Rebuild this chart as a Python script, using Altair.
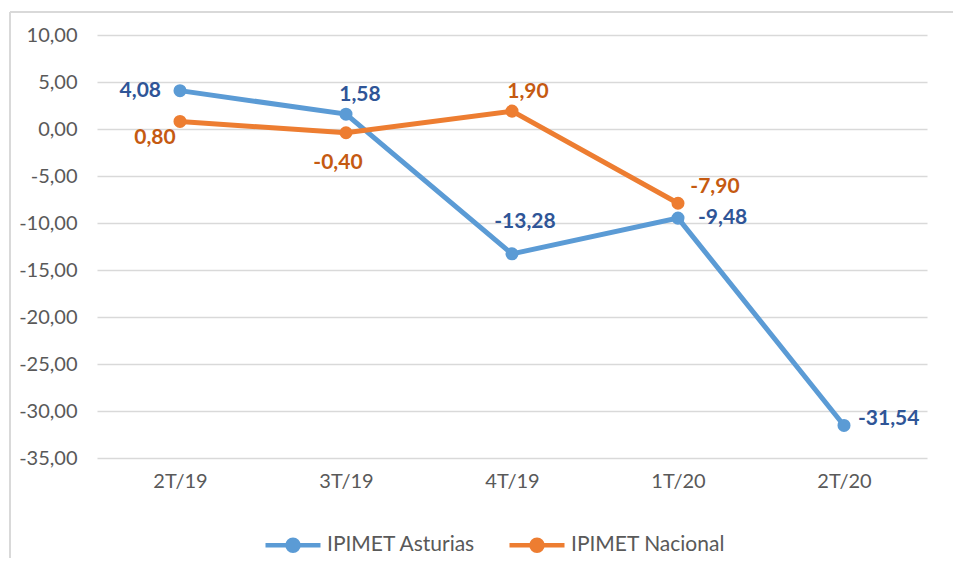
import altair as alt
import pandas as pd

periods = ["2T/19", "3T/19", "4T/19", "1T/20", "2T/20"]
asturias = [4.08, 1.58, -13.28, -9.48, -31.54]
nacional = [0.80, -0.40, 1.90, -7.90, None]
series_names = ["IPIMET Asturias", "IPIMET Nacional"]
y_ticks = [10, 5, 0, -5, -10, -15, -20, -25, -30, -35]

line_colors = ["#5B9BD5", "#ED7D31"]
label_colors = {"IPIMET Asturias": "#2F5597", "IPIMET Nacional": "#C55A11"}

rows = []
for name, vals in zip(series_names, [asturias, nacional]):
    for p, v in zip(periods, vals):
        if v is None:
            continue
        rows.append({"period": p, "series": name, "value": v,
                     "label": f"{v:.2f}".replace(".", ",")})
df = pd.DataFrame(rows)

# label placement (dx, dy, align) per point
offsets = {
    ("IPIMET Asturias", "2T/19"): (-19, 0, "right"),
    ("IPIMET Asturias", "3T/19"): (14, -19, "center"),
    ("IPIMET Asturias", "4T/19"): (13, -32, "center"),
    ("IPIMET Asturias", "1T/20"): (20, 0, "left"),
    ("IPIMET Asturias", "2T/20"): (14, -6, "left"),
    ("IPIMET Nacional", "2T/19"): (-25, 17, "center"),
    ("IPIMET Nacional", "3T/19"): (-8, 30, "center"),
    ("IPIMET Nacional", "4T/19"): (16, -19, "center"),
    ("IPIMET Nacional", "1T/20"): (37, -16, "center"),
}

FONT = "Lato"
W, H = 830, 423

x_enc = alt.X("period:N", sort=periods,
              scale=alt.Scale(type="point", padding=0.5),
              axis=alt.Axis(title=None, domain=False, ticks=False, grid=False,
                            labelFontSize=20, labelColor="#595959", labelFont=FONT,
                            labelPadding=13, labelAngle=0))
y_enc = alt.Y("value:Q", scale=alt.Scale(domain=[-35, 10], nice=False, zero=False),
              axis=alt.Axis(title=None, domain=False, ticks=False, values=y_ticks,
                            gridColor="#D9D9D9", gridWidth=1.5,
                            labelFontSize=20, labelColor="#595959", labelFont=FONT,
                            labelPadding=20,
                            labelExpr="(datum.value < 0 ? '-' : '') + replace(format(abs(datum.value), '.2f'), '.', ',')"))
color_scale = alt.Scale(domain=series_names, range=line_colors)

legend_path = ("M-1,0H1"
               "M-0.2,0a0.2,0.2 0 1,0 0.4,0a0.2,0.2 0 1,0 -0.4,0"
               "M-0.12,0a0.12,0.12 0 1,0 0.24,0a0.12,0.12 0 1,0 -0.24,0"
               "M-0.05,0a0.05,0.05 0 1,0 0.1,0a0.05,0.05 0 1,0 -0.1,0")

base = alt.Chart(df)
lines = base.mark_line(strokeWidth=5).encode(
    x=x_enc, y=y_enc,
    color=alt.Color("series:N", scale=color_scale,
                    legend=alt.Legend(title=None, orient="none", direction="horizontal",
                                      legendX=166, legendY=480,
                                      symbolType=legend_path, symbolSize=3025,
                                      symbolStrokeWidth=4.5,
                                      labelFont=FONT, labelFontSize=21,
                                      labelColor="#595959", labelOffset=4,
                                      columnPadding=24)),
)
points = base.mark_point(filled=True, size=170, opacity=1).encode(
    x=x_enc, y=y_enc,
    color=alt.Color("series:N", scale=color_scale, legend=None),
)

layers = [lines, points]
for (s, p), (dx, dy, al) in offsets.items():
    layers.append(
        base.transform_filter((alt.datum.series == s) & (alt.datum.period == p))
        .mark_text(font=FONT, fontSize=21, fontWeight="bold", dx=dx, dy=dy,
                   align=al, baseline="middle", color=label_colors[s])
        .encode(x=x_enc, y=y_enc, text="label:N")
    )

border_left = alt.Chart(df).mark_rule(color="#D9D9D9", strokeWidth=2).encode(
    x=alt.value(-87), y=alt.value(-23), y2=alt.value(523))
border_top = alt.Chart(df).mark_rule(color="#D9D9D9", strokeWidth=2).encode(
    x=alt.value(-87), x2=alt.value(856), y=alt.value(-23))

chart = alt.layer(border_left, border_top, *layers).properties(
    width=W, height=H,
    padding={"left": 89, "top": 27, "right": 26, "bottom": 100},
    autosize=alt.AutoSizeParams(type="none"),
    background="white",
).configure_view(stroke=None)

chart.save("out.html", embed_options={"renderer": "svg", "actions": False})
